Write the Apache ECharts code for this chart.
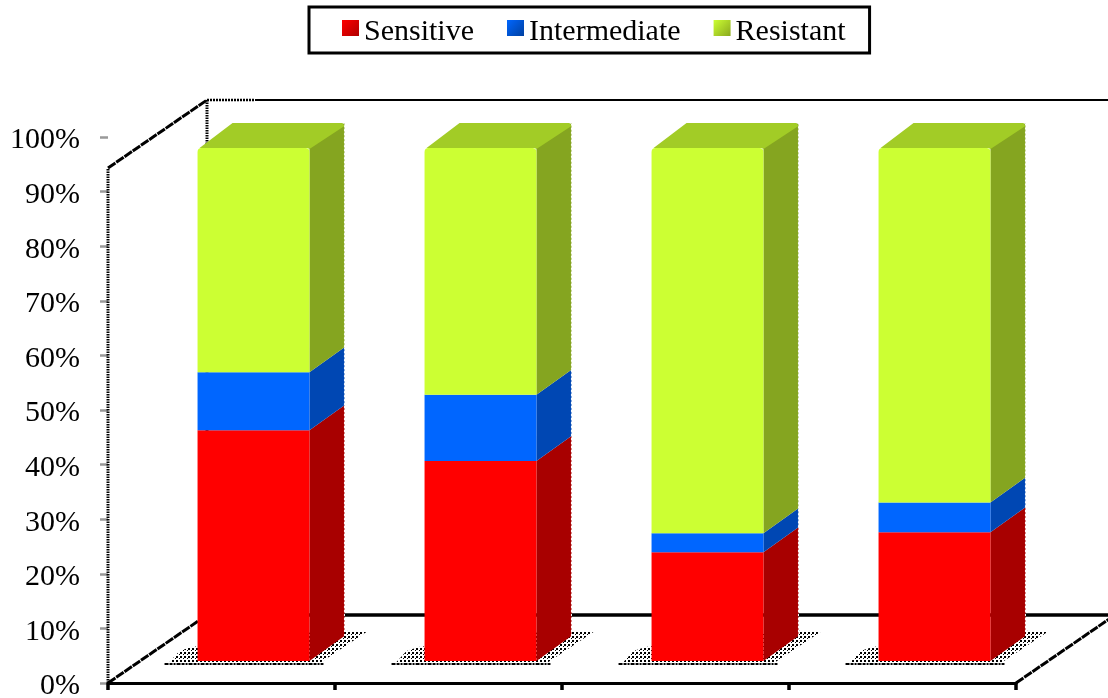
<!DOCTYPE html>
<html>
<head>
<meta charset="utf-8">
<style>html,body{margin:0;padding:0;background:#fff}#chart{width:1108px;height:698px}</style>
<script src="https://cdn.jsdelivr.net/npm/echarts@6/dist/echarts.min.js"></script>
</head>
<body>
<div id="chart"></div>
<script>
// Share of isolates per group, in percent of each stacked column.
const categories = ['Group 1', 'Group 2', 'Group 3', 'Group 4'];
const sensitive = [45.0, 39.0, 21.2, 25.1];
const intermediate = [11.3, 12.9, 3.7, 5.8];
const resistant = [43.7, 48.1, 75.1, 69.1];
const axisTicks = [0, 10, 20, 30, 40, 50, 60, 70, 80, 90, 100];

const serifFont = '"Liberation Serif", "Times New Roman", serif';

// Oblique projection of the box: floor depth, column offset and column depth.
const FLOOR_DX = 99, FLOOR_DY = -68;
const BAR_OFFSET_X = 32, BAR_OFFSET_Y = -22;
const BAR_DX = 35, BAR_DY = -25;
const BAR_RATIO = 0.493;

const palette = {
  Sensitive:    { front: '#ff0000', side: '#a80000', top: '#a80000', shade: '#b00000' },
  Intermediate: { front: '#0066ff', side: '#0047b3', top: '#0047b3', shade: '#0040a0' },
  Resistant:    { front: '#ccff33', side: '#85a520', top: '#a2cc26', shade: '#8aa81e' }
};

// Dither used for the floor shadow of each column.
function stipple() {
  const c = document.createElement('canvas');
  c.width = 4; c.height = 4;
  const g = c.getContext('2d');
  g.fillStyle = '#000';
  g.fillRect(0, 0, 2, 2);
  g.fillRect(3, 2, 1, 1);
  return c;
}
const stippleFill = { image: stipple(), repeat: 'repeat' };

function line(points, width, dash) {
  return {
    type: 'polyline',
    shape: { points },
    style: { stroke: '#000', lineWidth: width, lineDash: dash || null, fill: null }
  };
}

// Walls and floor of the 3D box, built from the plot rectangle.
function renderFrame(params) {
  const r = params.coordSys;
  const x0 = r.x, x1 = r.x + r.width, yb = r.y + r.height, yt = r.y - 2;
  return {
    type: 'group',
    children: [
      line([[x0 + FLOOR_DX, yb + FLOOR_DY], [x1 + FLOOR_DX, yb + FLOOR_DY]], 3.5),
      line([[x0 + FLOOR_DX, yt + FLOOR_DY], [x0 + FLOOR_DX + 48, yt + FLOOR_DY]], 2.5, [2, 1]),
      line([[x0 + FLOOR_DX + 48, yt + FLOOR_DY], [x1 + FLOOR_DX, yt + FLOOR_DY]], 2),
      line([[x0 + FLOOR_DX, yt + FLOOR_DY], [x0 + FLOOR_DX, yb + FLOOR_DY]], 3, [1.5, 1]),
      line([[x0, yb], [x0, yt]], 3, [1.5, 1]),
      line([[x0, yt], [x0 + FLOOR_DX, yt + FLOOR_DY]], 3, [9, 1]),
      line([[x0, yb], [x0 + FLOOR_DX, yb + FLOOR_DY]], 3, [9, 1]),
      line([[x1, yb], [x1 + FLOOR_DX, yb + FLOOR_DY]], 3, [9, 1])
    ]
  };
}

// Dithered shadow lying on the floor under one column.
function renderShadow(params, api) {
  const c = api.coord([api.value(0), 0]);
  const w = api.size([1, 0])[0] * BAR_RATIO;
  const left = c[0] + BAR_OFFSET_X - w / 2;
  const right = left + w;
  const base = c[1] + BAR_OFFSET_Y;
  return {
    type: 'group',
    children: [
      {
        type: 'polygon',
        shape: { points: [
          [left - 28, base + 1], [right + 12, base + 1],
          [right + 57, base - 29], [right + 22, base - 31],
          [left - 6, base - 14], [left - 18, base - 10]
        ] },
        style: { fill: stippleFill }
      },
      line([[left - 33, base + 3], [right + 14, base + 3]], 2, [4, 1, 3, 1, 2, 1])
    ]
  };
}

// One stack segment of a column: front face, side face and, on top, the lid.
function renderSegment(name, isTop) {
  const colors = palette[name];
  return function (params, api) {
    const cat = api.value(0);
    const a = api.coord([cat, api.value(1)]);
    const b = api.coord([cat, api.value(2)]);
    const w = api.size([1, 0])[0] * BAR_RATIO;
    const left = a[0] + BAR_OFFSET_X - w / 2;
    const right = left + w;
    const y0 = a[1] + BAR_OFFSET_Y;
    const y1 = b[1] + BAR_OFFSET_Y;
    const children = [
      {
        type: 'polygon',
        shape: { points: [[right, y0], [right + BAR_DX, y0 + BAR_DY], [right + BAR_DX, y1 + BAR_DY], [right, y1]] },
        style: { fill: colors.side }
      },
      {
        type: 'rect',
        shape: { x: left, y: y1, width: w, height: y0 - y1, r: isTop ? [4, 4, 0, 0] : 0 },
        style: { fill: colors.front }
      },
      {
        type: 'polyline',
        shape: { points: [[right + BAR_DX, y0 + BAR_DY], [right + BAR_DX, y1 + BAR_DY]] },
        style: { stroke: '#fff', lineWidth: 1, lineDash: [2, 2], fill: null }
      }
    ];
    if (isTop) {
      children.push({
        type: 'polygon',
        shape: { points: [[left + 2, y1], [left + BAR_DX, y1 + BAR_DY], [right + BAR_DX - 2, y1 + BAR_DY], [right + BAR_DX, y1 + BAR_DY + 3], [right, y1 + 1], [right - 2, y1]] },
        style: { fill: colors.top }
      });
    }
    return { type: 'group', children };
  };
}

// Turns the three value arrays into [category, start, end] rows of the stack.
function stackRows(values, below) {
  return values.map((v, i) => {
    const start = below.reduce((sum, arr) => sum + arr[i], 0);
    return [i, start, start + v];
  });
}

function segmentSeries(name, values, below, isTop, z) {
  return {
    name,
    type: 'custom',
    xAxisIndex: 1,
    yAxisIndex: 1,
    z,
    silent: true,
    itemStyle: { color: palette[name].front },
    encode: { x: 0, y: [1, 2] },
    data: stackRows(values, below),
    renderItem: renderSegment(name, isTop)
  };
}

function legendEntry(name) {
  return {
    name,
    itemStyle: {
      color: new echarts.graphic.LinearGradient(0, 0, 1, 1, [
        { offset: 0, color: palette[name].front },
        { offset: 1, color: palette[name].shade }
      ])
    }
  };
}

const chart = echarts.init(document.getElementById('chart'), null, { renderer: 'canvas' });

chart.setOption({
  animation: false,
  backgroundColor: '#fff',
  legend: {
    left: 309,
    top: 7,
    padding: [2, 24, 6, 33],
    itemGap: 33,
    itemWidth: 17,
    itemHeight: 16,
    icon: 'rect',
    selectedMode: false,
    borderColor: '#000',
    borderWidth: 3,
    formatter: '{t|{name}}',
    textStyle: {
      rich: {
        t: { fontFamily: serifFont, fontSize: 30, color: '#000', lineHeight: 30, padding: [8, 0, 0, 0] }
      }
    },
    data: ['Sensitive', 'Intermediate', 'Resistant'].map(legendEntry)
  },
  grid: [
    { left: 108, right: 92, top: 137, height: 546, outerBoundsMode: 'none' },
    { left: 108, right: 92, top: 170, height: 513, outerBoundsMode: 'none' }
  ],
  xAxis: [
    {
      type: 'category',
      gridIndex: 0,
      data: categories,
      axisLine: { show: true, lineStyle: { color: '#000', width: 3, type: [1.5, 1] } },
      axisTick: { show: true, length: 7, lineStyle: { color: '#000', width: 3.5 } },
      axisLabel: { show: false }
    },
    { type: 'category', gridIndex: 1, data: categories, show: false }
  ],
  yAxis: [
    {
      type: 'value',
      gridIndex: 0,
      min: axisTicks[0],
      max: axisTicks[axisTicks.length - 1],
      interval: 10,
      splitLine: { show: false },
      axisLine: { show: false },
      axisTick: { show: true, length: 8, lineStyle: { color: '#999', width: 2.5 } },
      axisLabel: {
        margin: 28,
        color: '#000',
        formatter: '{tick|{value}%}',
        rich: {
          tick: { fontFamily: serifFont, fontSize: 30, color: '#000', padding: [7, 0, 0, 0] }
        }
      }
    },
    { type: 'value', gridIndex: 1, min: 0, max: 100, interval: 10, show: false }
  ],
  series: [
    {
      type: 'custom',
      xAxisIndex: 1,
      yAxisIndex: 1,
      z: 1,
      silent: true,
      data: [[0]],
      renderItem: renderFrame
    },
    {
      type: 'custom',
      xAxisIndex: 1,
      yAxisIndex: 1,
      z: 2,
      silent: true,
      data: categories.map((c, i) => [i]),
      renderItem: renderShadow
    },
    segmentSeries('Sensitive', sensitive, [], false, 3),
    segmentSeries('Intermediate', intermediate, [sensitive], false, 3),
    segmentSeries('Resistant', resistant, [sensitive, intermediate], true, 3)
  ]
});
</script>
</body>
</html>
